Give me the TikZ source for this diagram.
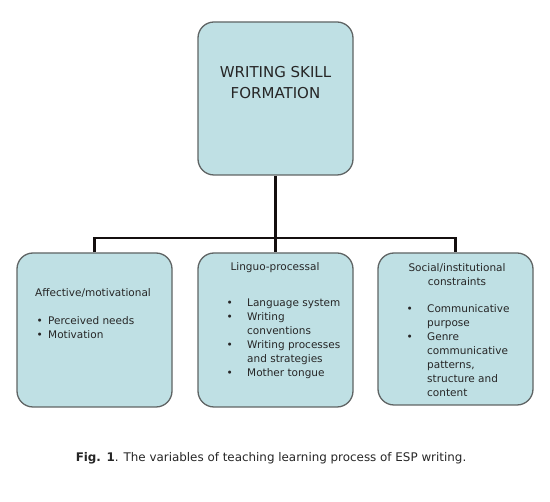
\documentclass[tikz,border=0pt]{standalone}
\usepackage{fontspec}
\setmainfont{DejaVu Sans}
\usepackage{array}
\usepackage{xcolor}
\definecolor{celesteCaja}{RGB}{191, 224, 228}
\definecolor{grisBorde}{RGB}{95, 100, 100}
\definecolor{negroLinea}{RGB}{20, 15, 15}
\newcommand{\vi}{\makebox[9pt][c]{•}}

\begin{document}
\begin{tikzpicture}[x=1pt, y=1pt,
  caja/.style={rectangle, draw=grisBorde, line width=1.3pt, fill=celesteCaja, rounded corners=16pt,
    minimum width=155pt, inner sep=0pt},
  titulo/.style={align=center, font=\fontsize{15}{21}\selectfont, text=black!85},
  texto/.style={align=center, font=\fontsize{10.5}{14}\selectfont, text=black!85, inner sep=0pt},
  lista/.style={font=\fontsize{10.5}{14}\selectfont, text=black!85, inner sep=0pt, anchor=base west},
  enlace/.style={line width=2.4pt, negroLinea}
]
\useasboundingbox (0,0) rectangle (550,-502);

% cajas
\node[caja, minimum height=153pt] (wsf) at (275.5,-98.5) {};
\node[caja, minimum height=154pt] (aff) at (94.5,-330) {};
\node[caja, minimum height=154pt] (lin) at (275.5,-330) {};
\node[caja, minimum height=152pt] (soc) at (455.5,-329) {};

% conectores
\coordinate (hub) at (275.5,-238);
\draw[enlace] (wsf.south) -- (lin.north);
\draw[enlace] (aff.north) |- (hub) -| (soc.north);

% textos
\node[titulo, anchor=base] (twsf) at (275.5,-99) {WRITING SKILL\\FORMATION};

\node[lista] (laff) at (35,-297) {%
  \begin{tabular}[t]{@{}p{13pt}@{}l@{}}
  \multicolumn{2}{@{}l@{}}{Affective/motivational}\\[14pt]
  \vi & Perceived needs\\
  \vi & Motivation
  \end{tabular}};

\node[texto, anchor=base] (tlin) at (275,-271) {Linguo-processal};
\node[lista] (llin) at (225,-307) {%
  \begin{tabular}[t]{@{}p{22pt}@{}l@{}}
  \vi & Language system\\
  \vi & Writing\\
      & conventions\\
  \vi & Writing processes\\
      & and strategies\\
  \vi & Mother tongue
  \end{tabular}};

\node[texto, anchor=base] (tsoc) at (457,-286) {Social/institutional\\constraints};
\node[lista] (lsoc) at (405,-313) {%
  \begin{tabular}[t]{@{}p{22pt}@{}l@{}}
  \vi & Communicative\\
      & purpose\\
  \vi & Genre\\
      & communicative\\
      & patterns,\\
      & structure and\\
      & content
  \end{tabular}};

\node[texto, anchor=base, font=\fontsize{11.9}{14}\selectfont] (cap) at (271,-462)
  {\textbf{Fig. 1}. The variables of teaching learning process of ESP writing.};
\end{tikzpicture}
\end{document}
